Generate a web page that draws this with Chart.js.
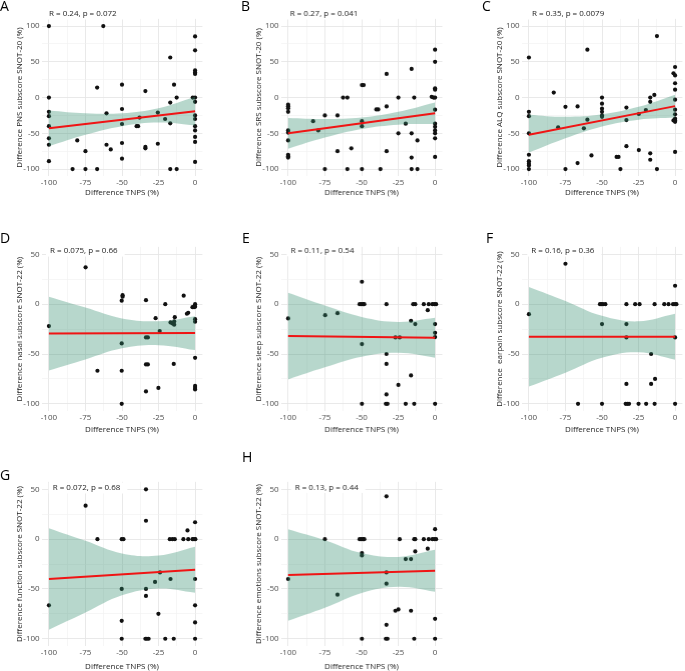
<!DOCTYPE html>
<html>
<head>
<meta charset="utf-8">
<script src="https://cdn.jsdelivr.net/npm/chart.js@4.4.1/dist/chart.umd.min.js"></script>
<style>
  body { margin: 0; width: 685px; height: 671px; position: relative; overflow: hidden; background: #fff; }
  .panel { position: absolute; }
  .letter { position: absolute; font: 14px "Open Sans", sans-serif; line-height: 14px; color: #000; }
</style>
</head>
<body>
<script>
// ---------- data ----------
const xGrid = [-100, -87.5, -75, -62.5, -50, -37.5, -25, -12.5, 0];
const yGridTop = [-100, -75, -50, -25, 0, 25, 50, 75, 100];
const yGridBottom = [-100, -75, -50, -25, 0, 25, 50];
const fitX = [-100, 0];
const bandX = [-100, -75, -50, -25, 0];

// A - PNS
const ptsA = [[-100,100],[-62.8,100],[0,85.5],[0,66],[-17,56],[0,38],[0,35],[0,33],[-67,14],[-50,18],[-14.4,18],[-34,9],[-100,0],[-12.6,0],[-1.6,0],[0,0],[0,-6],[-17,-7],[-100,-20],[-100,-26],[-50,-16],[-60.6,-22],[-25.5,-21],[0,-25],[0,-30],[-20.5,-30],[-38,-28],[-50,-37],[-17,-36],[-40,-40],[-39,-40],[-100,-40],[0,-40],[0,-46],[-100,-57],[0,-55],[0,-62],[-80.6,-60],[-100,-66],[-50,-63.6],[-60.6,-66],[-57.7,-72.5],[-34,-69],[-34,-71],[-25.5,-64.6],[-75,-75],[-50,-85.5],[-100,-89],[0,-90],[-83.8,-100],[-75,-100],[-67,-100],[-17,-100],[-12.6,-100]];
const fitA = [-43, -19];
const upperA = [-18, -22, -22, -15, 1];
const lowerA = [-68, -52, -40, -35, -39];

// B - SRS
const ptsB = [[0,67],[0,50],[-16,40],[-33,33],[-49.8,17.5],[-48.6,17.5],[0,13],[0,11],[-62.6,0],[-59.7,0],[-25,0],[-14.2,0],[-2.3,1],[-1,0],[0,0],[-100,-10],[-100,-12],[-100,-15],[-100,-20],[-33,-12.4],[-40,-16.6],[-38.7,-16.6],[0,-17],[-83,-33],[-75,-25],[-66.4,-25],[-49.8,-33],[-49.8,-40],[-20,-36.6],[0,-36.6],[0,-41],[0,-46],[0,-50],[-79.5,-46],[-100,-46],[-100,-49],[-25,-50],[-16,-50],[-100,-60],[-12,-60],[0,-57],[-57,-71],[-66.4,-75],[-33,-75],[-100,-80],[-100,-82],[-100,-84],[-16,-84],[0,-83],[-75,-100],[-59.7,-100],[-49.8,-100],[-37.2,-100],[-16,-100],[-12,-100]];
const fitB = [-50, -22];
const upperB = [-28.5, -30, -28, -20, -7];
const lowerB = [-71.5, -56, -44, -38, -37];

// C - ALQ
const ptsC = [[-12.4,86],[-60,67],[-100,56],[0,42.7],[-1.1,34],[0,31],[0,20],[0,11],[-83,7],[-50,0],[-17,0],[-14.2,3.7],[0,-3],[-50,-8.6],[-17,-6],[-75,-13],[-66.7,-12.4],[-50,-15.6],[-50,-20],[-50,-25],[-50,-27],[-33.3,-14],[-100,-20],[-100,-26],[0,-17],[0,-23.5],[0,-29.6],[0,-32],[0,-34],[-1.1,-32],[-20,-17.5],[-24.8,-23],[-60,-31],[-33.3,-31.5],[-80,-41.7],[-62.4,-43],[-100,-50],[-33.3,-68],[-24.8,-73.4],[0,-76],[-57.2,-81],[-100,-80],[-40,-83],[-38.7,-83],[-17,-78],[-17,-87],[-100,-89],[-100,-92.5],[-100,-95],[-66.7,-91.6],[-100,-100],[-75,-100],[-37.4,-100],[-12.4,-100]];
const fitC = [-52, -12];
const upperC = [-24, -27, -23.5, -13, 4];
const lowerC = [-77, -57, -40.5, -31, -28];

// D - nasal
const ptsD = [[-74.9,37],[-49.6,9],[-49.6,7.5],[-50.2,3.5],[-33.6,4],[-20.4,0],[-7.8,8.5],[0,0],[-1.8,-3],[-0.7,-3],[0,-2.5],[-4.7,-8.6],[-5.6,-9.6],[-27,-14],[-13.9,-13],[0,-15],[0,-17.6],[-16.8,-18.3],[-15.5,-19.3],[-14.3,-20.6],[-14.3,-17.3],[-100,-22],[-24.2,-27],[-33.6,-33.4],[-32.3,-33.4],[-50.2,-39.4],[0,-53.8],[-33.6,-60.5],[-32.3,-60.5],[-14.6,-60],[-66.8,-66.8],[-50.2,-66.8],[0,-82],[0,-84],[0,-85.6],[-25.1,-84],[-33.6,-87.6],[-50.2,-100]];
const fitD = [-29.5, -29];
const upperD = [7.5, -3.4, -14.3, -17.1, -12];
const lowerD = [-66.5, -55.4, -44.3, -41.1, -46];

// E - sleep
const ptsE = [[-49.8,22.5],[-51.4,0],[-50.2,0],[-49,0],[-48.2,0],[-33.1,0],[-14.9,0],[-13.5,0],[-7.7,0],[-4.3,0],[-1.8,0],[-0.5,0],[0.7,0],[-5,-6],[-100,-14.3],[-74.8,-11],[-66.4,-9],[-16.4,-16.6],[-13.5,-20],[0,-20],[0,-28.7],[0,-33],[-27,-33.4],[-24.1,-33.4],[-49.8,-40],[-33.1,-50],[-33.1,-60],[-16.4,-71.5],[-25,-81],[-33.1,-90.6],[-49.8,-100],[-33.5,-100],[-32.4,-100],[-20,-100],[-14.2,-100],[0,-100]];
const fitE = [-32, -33.7];
const upperE = [11.5, -1.4, -12.8, -17.8, -13.7];
const lowerE = [-75.5, -63.4, -52.8, -48.8, -53.7];

// F - earpain
const ptsF = [[-75,40.6],[0,18.5],[-51.4,0],[-50.5,0],[-49.3,0],[-47.7,0],[-33.3,0],[-27.3,0],[-24.3,0],[-14,0],[-7.4,0],[-4.5,0],[-1.4,0],[0,0],[0.9,0],[-100,-10],[-50,-20],[-33.3,-20],[-33.3,-33.4],[0,-33.4],[-16.4,-50],[-33.3,-80],[-16.4,-80],[-13.7,-75],[-66.4,-100],[-50,-100],[-33.8,-100],[-32.7,-100],[-31.5,-100],[-25,-100],[-19.8,-100],[-14,-100],[0,-100]];
const fitF = [-32.7, -32.7];
const upperF = [17.3, 3.3, -11.7, -17.2, -9.7];
const lowerF = [-82.7, -68.7, -53.7, -48.2, -55.7];

// G - function
const ptsG = [[-33.6,50],[-74.9,33.6],[-33.6,18.5],[0,17],[-5.2,8.8],[-66.8,0],[-50.2,0],[-49,0],[-17.3,0],[-15.5,0],[-13.9,0],[-8,0],[-4.7,0],[-1.8,0],[-0.7,0],[0.2,0],[-24,-33.4],[-27.4,-43],[-16.8,-40],[0,-40],[-50.2,-50],[-33.6,-50],[-33.6,-57],[-100,-66.5],[0,-66.5],[-25.1,-75],[-50.2,-82],[0,-83.6],[-50.2,-100],[-34,-100],[-33,-100],[-31.8,-100],[-20.4,-100],[-14.6,-100],[0,-100]];
const fitG = [-40, -30.7];
const upperG = [11, -1.7, -14.4, -16.5, -7.7];
const lowerG = [-91, -73.7, -56.4, -49.5, -53.7];

// H - emotions
const ptsH = [[-33.1,43],[0,10],[-75,0],[-51.4,0],[-50.2,0],[-49,0],[-48.2,0],[-24.1,0],[-14.2,0],[-13.5,0],[-7.7,0],[-4.3,0],[-1.8,0],[-0.5,0],[0.7,0],[-5,-9.6],[-13.5,-12.3],[-49.8,-14],[-49.8,-16.3],[-20,-20],[-16.4,-20],[-100,-40],[-33.1,-33.4],[-33.1,-44.7],[-66.4,-55.8],[-27,-71.9],[-25,-70.6],[-16.4,-71.9],[0,-80],[-33.1,-86],[-49.8,-100],[-33.5,-100],[-32.4,-100],[-14.2,-100],[0,-100]];
const fitH = [-36, -31.7];
const upperH = [10, -1, -14, -17.8, -10.7];
const lowerH = [-82, -69, -54, -47.8, -52.7];

// ---------- layout ----------
const colLeft = [41.6, 280.9, 521.3];
const rowTop = [18.9, 246.8, 482.2];
const rowBottom = [176.2, 411.2, 646.5];
const titlePadBottom = [4.7, 3.1, 1];
const chartW = 162.8, yAxisW = 41.6, xAxisH = 26, padTop = 18.9;

const panels = [
  { letter: "A", lx: 0, ly: -1, row: 0, col: 0, pts: ptsA, fit: fitA, up: upperA, lo: lowerA, stat: "R = 0.24, p = 0.072", sx: 7.4, sy: -4.9, yTitle: "Difference PNS subscore SNOT-20 (%)" },
  { letter: "B", lx: 241, ly: -1, row: 0, col: 1, pts: ptsB, fit: fitB, up: upperB, lo: lowerB, stat: "R = 0.27, p = 0.041", sx: 9.1, sy: -4.9, yTitle: "Difference SRS subscore SNOT-20 (%)" },
  { letter: "C", lx: 482, ly: -1, row: 0, col: 2, pts: ptsC, fit: fitC, up: upperC, lo: lowerC, stat: "R = 0.35, p = 0.0079", sx: 10.4, sy: -4.9, yTitle: "Difference ALQ subscore SNOT-20 (%)" },
  { letter: "D", lx: 0, ly: 231, row: 1, col: 0, pts: ptsD, fit: fitD, up: upperD, lo: lowerD, stat: "R = 0.075, p = 0.66", sx: 8.4, sy: 4.2, yTitle: "Difference nasal subscore SNOT-22 (%)" },
  { letter: "E", lx: 242, ly: 231, row: 1, col: 1, pts: ptsE, fit: fitE, up: upperE, lo: lowerE, stat: "R = 0.11, p = 0.54", sx: 9.8, sy: 3.9, yTitle: "Difference sleep subscore SNOT-22 (%)" },
  { letter: "F", lx: 486, ly: 231, row: 1, col: 2, pts: ptsF, fit: fitF, up: upperF, lo: lowerF, stat: "R = 0.16, p = 0.36", sx: 9.7, sy: 4.2, yTitle: "Difference  earpain subscore SNOT-22 (%)" },
  { letter: "G", lx: 0, ly: 468, row: 2, col: 0, pts: ptsG, fit: fitG, up: upperG, lo: lowerG, stat: "R = 0.072, p = 0.68", sx: 11.1, sy: 6.1, yTitle: "Difference function subscore SNOT-22 (%)" },
  { letter: "H", lx: 242, ly: 450, row: 2, col: 1, pts: ptsH, fit: fitH, up: upperH, lo: lowerH, stat: "R = 0.13, p = 0.44", sx: 14.1, sy: 5.5, yTitle: "Difference emotions subscore SNOT-22 (%)" }
];

Chart.defaults.font.family = "'Open Sans', sans-serif";

// R / p label with white box (covers grid, sits under the points)
const statLabel = {
  id: "statLabel",
  beforeDatasetsDraw(chart, args, opts) {
    const { ctx, chartArea } = chart;
    ctx.save();
    ctx.font = "8px 'Open Sans'";
    const w = ctx.measureText(opts.text).width;
    const x = chartArea.left + opts.dx, y = chartArea.top + opts.dy;
    ctx.fillStyle = "#fff";
    ctx.fillRect(x - 4, y - 5.5, w + 11, 11);
    ctx.fillStyle = "#222";
    ctx.textBaseline = "middle";
    ctx.fillText(opts.text, x, y);
    ctx.restore();
  }
};

function gridColor(ctx, majorStep) {
  const v = ctx.tick ? ctx.tick.value : 0;
  return v % majorStep === 0 ? "#e6e6e6" : "#f0f0f0";
}

panels.forEach(function (p) {
  const top = p.row === 0;
  const chartH = rowBottom[p.row] - rowTop[p.row];
  const div = document.createElement("div");
  div.className = "panel";
  div.style.left = (colLeft[p.col] - yAxisW) + "px";
  div.style.top = (rowTop[p.row] - padTop) + "px";
  div.style.width = (yAxisW + chartW + 2) + "px";
  div.style.height = (padTop + chartH + xAxisH + 2) + "px";
  const cv = document.createElement("canvas");
  div.appendChild(cv);
  document.body.appendChild(div);

  const letter = document.createElement("div");
  letter.className = "letter";
  letter.textContent = p.letter;
  letter.style.left = p.lx + "px";
  letter.style.top = p.ly + "px";
  document.body.appendChild(letter);

  const yTicks = top ? yGridTop : yGridBottom;

  new Chart(cv, {
    type: "scatter",
    data: {
      datasets: [
        {
          label: "points",
          data: p.pts.map(d => ({ x: d[0], y: d[1] })),
          backgroundColor: "#111",
          pointRadius: 2.1,
          pointBorderWidth: 0,
          order: 4
        },
        {
          label: "lower",
          data: bandX.map((x, i) => ({ x: x, y: p.lo[i] })),
          showLine: true,
          borderWidth: 0,
          borderColor: "rgba(0,0,0,0)",
          pointRadius: 0,
          tension: 0.4,
          order: 3
        },
        {
          label: "upper",
          data: bandX.map((x, i) => ({ x: x, y: p.up[i] })),
          showLine: true,
          borderWidth: 0,
          borderColor: "rgba(0,0,0,0)",
          pointRadius: 0,
          tension: 0.4,
          fill: "-1",
          backgroundColor: "rgba(50,140,110,0.35)",
          order: 2
        },
        {
          label: "fit",
          data: fitX.map((x, i) => ({ x: x, y: p.fit[i] })),
          showLine: true,
          borderColor: "rgb(240,20,20)",
          borderWidth: 2,
          pointRadius: 0,
          order: 1
        }
      ]
    },
    options: {
      animation: false,
      responsive: true,
      maintainAspectRatio: false,
      layout: { padding: { top: padTop, left: 0, right: 2, bottom: 2 } },
      plugins: {
        legend: { display: false },
        tooltip: { enabled: false },
        statLabel: { text: p.stat, dx: p.sx, dy: p.sy }
      },
      scales: {
        x: {
          type: "linear",
          min: -105,
          max: 5,
          afterBuildTicks: s => { s.ticks = xGrid.map(v => ({ value: v })); },
          afterFit: s => { s.height = xAxisH; },
          grid: { color: c => gridColor(c, 25), lineWidth: c => (c.tick && c.tick.value % 25 === 0 ? 0.9 : 0.6), drawTicks: false },
          border: { display: false },
          ticks: {
            padding: 1.6,
            color: "#4d4d4d",
            font: { size: 8 },
            maxRotation: 0,
            autoSkip: false,
            callback: v => (v % 25 === 0 ? String(v) : "")
          },
          title: {
            display: true,
            text: "Difference TNPS (%)",
            color: "#222",
            font: { size: 8 },
            padding: { top: 0, bottom: titlePadBottom[p.row] }
          }
        },
        y: {
          type: "linear",
          min: top ? -110 : -107.5,
          max: top ? 110 : 57.5,
          afterBuildTicks: s => { s.ticks = yTicks.map(v => ({ value: v })); },
          afterFit: s => { s.width = yAxisW; },
          grid: { color: c => gridColor(c, 50), lineWidth: c => (c.tick && c.tick.value % 50 === 0 ? 0.9 : 0.6), drawTicks: false },
          border: { display: false },
          ticks: {
            padding: 2,
            color: "#4d4d4d",
            font: { size: 8 },
            autoSkip: false,
            callback: v => (v % 50 === 0 ? String(v) : "")
          },
          title: {
            display: true,
            text: p.yTitle,
            color: "#222",
            font: { size: 8 },
            padding: { top: 15.3, bottom: 0 }
          }
        }
      }
    },
    plugins: [statLabel]
  });
});
</script>
</body>
</html>
